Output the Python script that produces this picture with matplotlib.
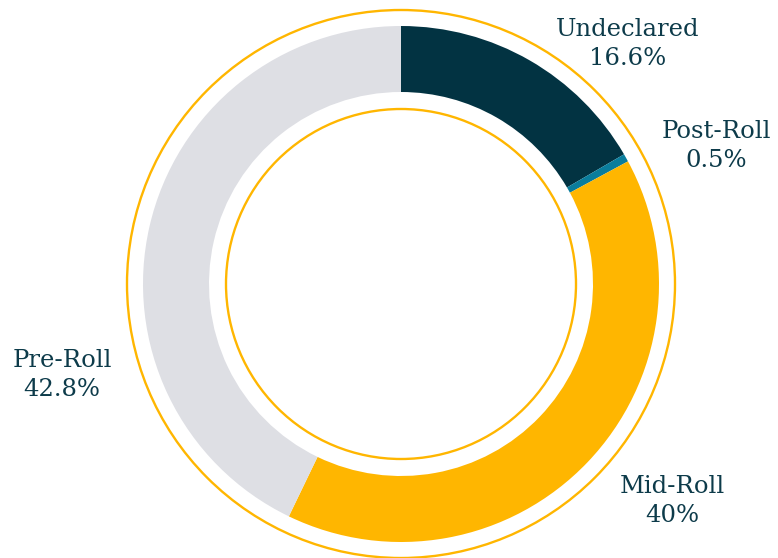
import matplotlib.pyplot as plt
from matplotlib.patches import Circle

labels = ["Undeclared", "Post-Roll", "Mid-Roll", "Pre-Roll"]
shares = [16.6, 0.5, 40.0, 42.8]
share_text = ["16.6%", "0.5%", "40%", "42.8%"]
colors = ["#023342", "#0a7d9c", "#ffb600", "#dedfe4"]
label_pos = [(628, 514), (716, 412), (672, 57), (62, 183)]

TEXT = "#0d3b4a"
RING = "#ffb600"
W, H = 778, 558
cx, cy = 401, 274

fig = plt.figure(figsize=(W / 100, H / 100), dpi=100)
ax = fig.add_axes([0, 0, 1, 1])

ax.pie(shares, colors=colors, startangle=90, counterclock=False,
       center=(cx, cy), radius=258, frame=True,
       wedgeprops=dict(width=66, linewidth=0))
ax.set_xlim(0, W)
ax.set_ylim(0, H)
ax.set_aspect("equal")
ax.axis("off")

for r in (274, 175):
    ax.add_patch(Circle((cx, cy), r, fill=False, edgecolor=RING, linewidth=1.7))

for name, pct, (x, y) in zip(labels, share_text, label_pos):
    ax.text(x, y, f"{name}\n{pct}", ha="center", va="center", color=TEXT,
            fontsize=17.5, family="DejaVu Serif", linespacing=1.35)

fig.savefig("out.png", dpi=100)
